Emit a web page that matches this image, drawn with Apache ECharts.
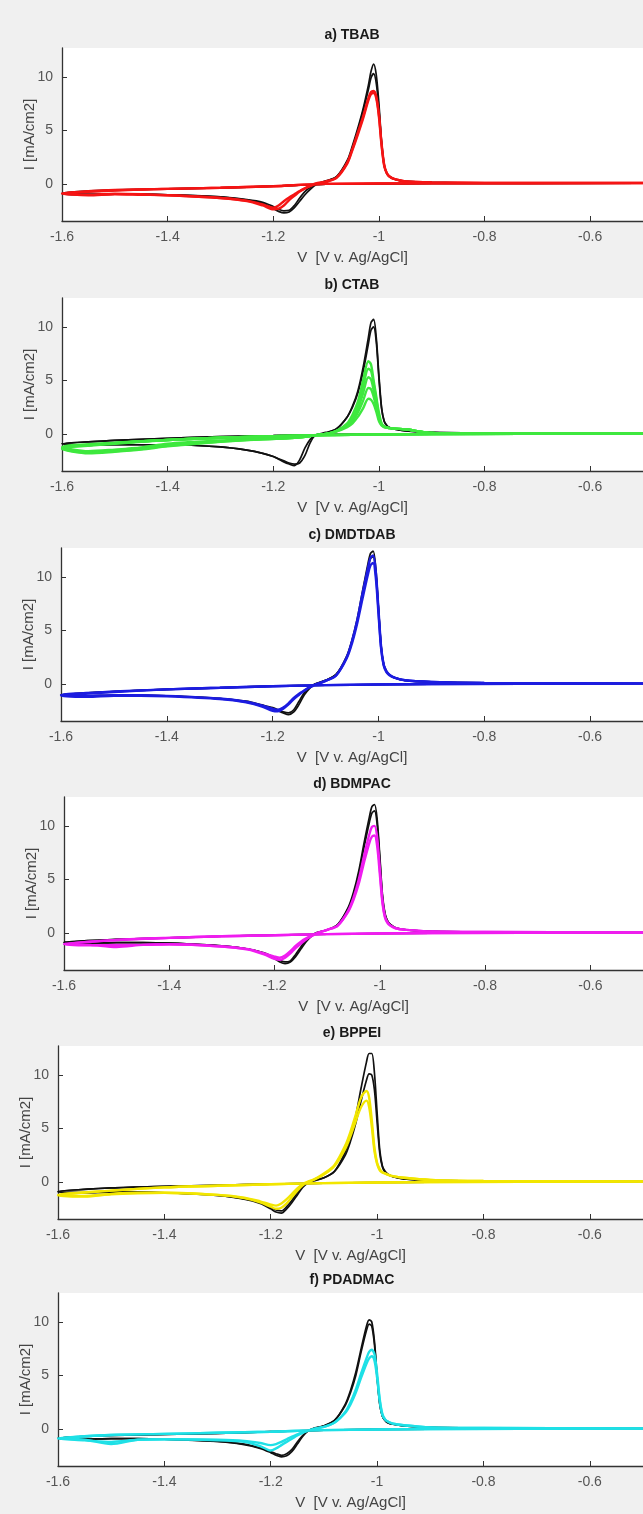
<!DOCTYPE html>
<html>
<head>
<meta charset="utf-8">
<script src="https://cdn.jsdelivr.net/npm/echarts@6/dist/echarts.min.js"></script>
<style>
html,body{margin:0;padding:0;background:#f0f0f0;}
#chart{width:643px;height:1514px;}
</style>
</head>
<body>
<div id="chart"></div>
<script>
// potential along one cycle: sweep down to -1.6 V, then back up to -0.5 V
var scanV = [-0.5,-0.9,-1.1,-1.2,-1.3,-1.4,-1.5,-1.6,
  -1.55,-1.5,-1.45,-1.4,-1.3,-1.25,-1.22,-1.2,-1.19,-1.18,-1.17,-1.16,-1.15,-1.14,-1.13,-1.12,
  -1.1,-1.08,-1.06,-1.05,-1.04,-1.03,-1.02,-1.015,-1.01,-1.005,-1.0,-0.995,-0.99,-0.985,-0.98,-0.97,-0.95,-0.9,-0.8,-0.5];

var xTicks = [-1.6,-1.4,-1.2,-1,-0.8,-0.6];
var yTicks = [0,5,10];

// a) TBAB
var tbabBlack1 = [0.08,0.05,0.0,-0.2,-0.35,-0.45,-0.55,-0.85,
  -0.95,-0.95,-0.95,-1.0,-1.2,-1.5,-1.8,-2.3,-2.55,-2.7,-2.6,-2.2,-1.6,-1.0,-0.5,-0.1,
  0.25,0.7,2.2,3.6,5.2,7.0,9.2,10.5,11.2,10.2,7.5,4.0,1.8,1.0,0.7,0.45,0.25,0.15,0.1,0.08];
var tbabBlack2 = [0.08,0.05,0.0,-0.2,-0.35,-0.45,-0.6,-0.9,
  -1.0,-0.95,-0.95,-1.0,-1.2,-1.45,-1.7,-2.1,-2.35,-2.5,-2.45,-2.0,-1.3,-0.7,-0.3,0.0,
  0.3,0.7,2.1,3.4,5.0,6.8,8.8,9.9,10.3,9.4,7.0,3.8,1.7,1.0,0.7,0.45,0.25,0.15,0.1,0.08];
var tbabRed1 = [0.1,0.06,0.02,-0.2,-0.35,-0.45,-0.55,-0.85,
  -1.0,-0.9,-0.95,-1.05,-1.3,-1.55,-1.9,-2.2,-2.0,-1.6,-1.25,-0.95,-0.65,-0.4,-0.2,0.0,
  0.2,0.6,2.0,3.3,4.8,6.3,8.0,8.6,8.7,8.2,6.5,3.8,1.8,1.0,0.7,0.45,0.25,0.15,0.1,0.1];
var tbabRed2 = [0.1,0.06,0.02,-0.2,-0.35,-0.45,-0.6,-0.9,
  -1.05,-0.95,-1.0,-1.05,-1.3,-1.6,-2.0,-2.35,-2.3,-2.0,-1.5,-1.1,-0.7,-0.4,-0.15,0.05,
  0.25,0.6,1.9,3.2,4.6,6.1,7.8,8.4,8.5,8.0,6.3,3.6,1.7,1.0,0.7,0.45,0.25,0.15,0.1,0.1];

// b) CTAB
var ctabBlack1 = [0.05,0.02,-0.05,-0.15,-0.25,-0.4,-0.6,-0.9,
  -1.05,-1.0,-1.0,-1.0,-1.2,-1.5,-1.8,-2.1,-2.35,-2.6,-2.8,-2.95,-2.4,-1.3,-0.5,-0.1,
  0.1,0.5,1.6,2.6,4.0,6.2,9.0,10.4,10.7,9.0,5.5,2.5,1.2,0.8,0.6,0.45,0.3,0.15,0.1,0.05];
var ctabBlack2 = [0.05,0.02,-0.05,-0.15,-0.25,-0.4,-0.6,-0.9,
  -1.05,-1.0,-1.0,-1.0,-1.2,-1.5,-1.8,-2.1,-2.3,-2.5,-2.7,-2.8,-2.7,-2.0,-0.8,-0.1,
  0.15,0.5,1.6,2.5,3.8,5.8,8.4,9.7,10.0,8.6,5.2,2.4,1.2,0.8,0.6,0.45,0.3,0.15,0.1,0.05];
var ctabGreen1 = [0.05,0.0,-0.1,-0.2,-0.35,-0.55,-0.8,-1.2,
  -1.6,-1.45,-1.25,-0.9,-0.6,-0.5,-0.45,-0.42,-0.4,-0.38,-0.36,-0.34,-0.3,-0.25,-0.2,-0.1,
  0.0,0.3,1.0,1.8,3.0,5.0,6.8,6.5,5.0,3.5,2.0,1.0,0.7,0.6,0.55,0.5,0.45,0.1,0.05,0.05];
var ctabGreen2 = [0.05,0.0,-0.1,-0.2,-0.35,-0.55,-0.85,-1.3,
  -1.7,-1.5,-1.3,-1.0,-0.65,-0.5,-0.45,-0.42,-0.4,-0.38,-0.36,-0.34,-0.3,-0.25,-0.2,-0.1,
  0.0,0.3,0.9,1.6,2.7,4.4,6.1,5.9,4.7,3.2,1.8,0.95,0.7,0.6,0.55,0.5,0.45,0.1,0.05,0.05];
var ctabGreen3 = [0.05,0.0,-0.1,-0.2,-0.35,-0.55,-0.85,-1.3,
  -1.7,-1.55,-1.35,-1.05,-0.68,-0.52,-0.46,-0.43,-0.41,-0.39,-0.37,-0.34,-0.3,-0.25,-0.2,-0.1,
  0.0,0.3,0.85,1.4,2.3,3.8,5.3,5.1,4.1,2.8,1.6,0.9,0.7,0.6,0.55,0.5,0.45,0.1,0.05,0.05];
var ctabGreen4 = [0.05,0.0,-0.1,-0.2,-0.35,-0.55,-0.85,-1.35,
  -1.75,-1.6,-1.4,-1.1,-0.7,-0.55,-0.5,-0.45,-0.42,-0.4,-0.38,-0.35,-0.3,-0.25,-0.2,-0.1,
  0.0,0.25,0.75,1.2,2.0,3.1,4.3,4.2,3.5,2.5,1.4,0.85,0.65,0.6,0.55,0.5,0.45,0.1,0.05,0.05];
var ctabGreen5 = [0.05,0.0,-0.1,-0.2,-0.35,-0.55,-0.9,-1.4,
  -1.8,-1.65,-1.45,-1.15,-0.72,-0.56,-0.5,-0.46,-0.43,-0.41,-0.39,-0.36,-0.31,-0.26,-0.2,-0.1,
  0.0,0.25,0.65,1.0,1.6,2.4,3.3,3.2,2.8,2.1,1.2,0.8,0.65,0.6,0.55,0.5,0.45,0.1,0.05,0.05];

// c) DMDTDAB
var dmBlack1 = [0.05,0.0,-0.1,-0.2,-0.35,-0.5,-0.7,-1.0,
  -1.1,-1.05,-1.05,-1.1,-1.35,-1.65,-2.0,-2.3,-2.5,-2.7,-2.85,-2.6,-1.9,-1.0,-0.4,0.0,
  0.35,0.9,2.6,4.1,6.1,8.7,11.2,12.2,12.4,10.8,7.2,3.6,1.8,1.2,0.9,0.6,0.35,0.2,0.1,0.05];
var dmBlack2 = [0.05,0.0,-0.1,-0.2,-0.35,-0.5,-0.7,-1.0,
  -1.1,-1.05,-1.05,-1.1,-1.35,-1.6,-1.95,-2.2,-2.4,-2.6,-2.7,-2.4,-1.6,-0.8,-0.3,0.0,
  0.35,0.9,2.5,4.0,5.9,8.4,10.8,11.7,11.9,10.4,7.0,3.5,1.8,1.2,0.9,0.6,0.35,0.2,0.1,0.05];
var dmBlue1 = [0.05,0.0,-0.1,-0.2,-0.35,-0.5,-0.7,-1.0,
  -1.1,-1.05,-1.05,-1.1,-1.35,-1.65,-2.0,-2.3,-2.4,-2.2,-1.8,-1.3,-0.9,-0.6,-0.3,-0.1,
  0.3,0.8,2.5,4.0,6.0,8.5,10.8,11.8,12.0,10.5,7.0,3.5,1.8,1.2,0.9,0.6,0.35,0.2,0.1,0.05];
var dmBlue2 = [0.05,0.0,-0.1,-0.2,-0.35,-0.5,-0.75,-1.1,
  -1.2,-1.1,-1.1,-1.15,-1.4,-1.7,-2.1,-2.5,-2.55,-2.3,-1.9,-1.4,-1.0,-0.6,-0.3,-0.05,
  0.3,0.8,2.4,3.8,5.7,8.0,10.2,11.1,11.3,9.9,6.6,3.3,1.7,1.1,0.85,0.6,0.35,0.2,0.1,0.05];

// d) BDMPAC
var bdBlack1 = [0.05,0.0,-0.1,-0.2,-0.3,-0.45,-0.6,-0.85,
  -0.95,-0.9,-0.9,-0.95,-1.2,-1.5,-1.9,-2.4,-2.7,-2.85,-2.7,-2.2,-1.5,-0.8,-0.3,0.0,
  0.3,0.8,2.4,3.8,5.8,8.4,10.8,11.8,12.0,10.6,7.2,3.6,1.8,1.1,0.8,0.5,0.3,0.15,0.1,0.05];
var bdBlack2 = [0.05,0.0,-0.1,-0.2,-0.3,-0.45,-0.6,-0.85,
  -0.95,-0.9,-0.9,-0.95,-1.2,-1.5,-1.85,-2.3,-2.55,-2.7,-2.6,-2.0,-1.3,-0.6,-0.2,0.05,
  0.3,0.8,2.3,3.6,5.5,8.0,10.3,11.2,11.4,10.1,6.9,3.4,1.7,1.1,0.8,0.5,0.3,0.15,0.1,0.05];
var bdMag1 = [0.05,0.0,-0.1,-0.2,-0.3,-0.45,-0.65,-1.0,
  -1.1,-1.3,-1.1,-1.05,-1.25,-1.55,-2.0,-2.4,-2.5,-2.3,-1.9,-1.4,-1.0,-0.6,-0.3,-0.05,
  0.3,0.7,2.1,3.3,5.0,7.2,9.2,9.9,10.0,8.9,6.0,3.0,1.5,1.0,0.7,0.45,0.3,0.15,0.1,0.05];
var bdMag2 = [0.05,0.0,-0.1,-0.2,-0.3,-0.45,-0.65,-1.05,
  -1.15,-1.1,-1.1,-1.05,-1.25,-1.5,-1.9,-2.2,-2.3,-2.1,-1.7,-1.2,-0.8,-0.5,-0.25,0.0,
  0.3,0.7,2.0,3.1,4.6,6.6,8.4,9.0,9.1,8.1,5.5,2.8,1.4,0.9,0.7,0.45,0.3,0.15,0.1,0.05];

// e) BPPEI
var bpBlack1 = [0.05,0.0,-0.1,-0.2,-0.3,-0.4,-0.55,-0.9,
  -1.0,-0.95,-0.95,-1.0,-1.25,-1.6,-2.0,-2.5,-2.8,-2.9,-2.5,-1.9,-1.2,-0.5,-0.1,0.1,
  0.4,1.0,2.8,4.2,6.2,8.8,11.2,12.0,12.0,10.2,6.5,3.0,1.5,1.0,0.75,0.5,0.3,0.15,0.1,0.05];
var bpBlack2 = [0.05,0.0,-0.1,-0.2,-0.3,-0.4,-0.55,-0.9,
  -1.0,-0.95,-0.95,-1.0,-1.25,-1.55,-1.9,-2.35,-2.6,-2.7,-2.3,-1.7,-1.0,-0.4,0.0,0.15,
  0.4,1.0,2.5,3.8,5.5,7.6,9.5,10.1,10.0,8.6,5.6,2.7,1.4,0.9,0.7,0.5,0.3,0.15,0.1,0.05];
var bpYellow1 = [0.05,0.0,-0.1,-0.2,-0.35,-0.5,-0.8,-1.2,
  -1.3,-1.1,-1.0,-1.0,-1.2,-1.5,-1.9,-2.3,-2.5,-2.4,-2.0,-1.4,-0.8,-0.3,0.0,0.2,
  0.8,1.6,3.4,4.7,6.3,7.9,8.5,7.9,5.8,3.2,1.8,1.2,0.9,0.8,0.7,0.55,0.4,0.2,0.1,0.05];
var bpYellow2 = [0.05,0.0,-0.1,-0.2,-0.35,-0.5,-0.8,-1.25,
  -1.35,-1.15,-1.05,-1.0,-1.2,-1.45,-1.8,-2.1,-2.2,-2.0,-1.6,-1.1,-0.6,-0.2,0.05,0.2,
  0.7,1.5,3.1,4.3,5.7,7.0,7.6,7.0,5.2,2.9,1.7,1.1,0.9,0.8,0.7,0.55,0.4,0.2,0.1,0.05];

// f) PDADMAC
var pdBlack1 = [0.05,0.0,-0.1,-0.25,-0.4,-0.5,-0.6,-0.85,
  -0.95,-0.9,-0.9,-0.95,-1.15,-1.45,-1.8,-2.2,-2.45,-2.6,-2.5,-2.1,-1.4,-0.7,-0.2,0.05,
  0.3,0.8,2.3,3.6,5.3,7.5,9.6,10.2,10.0,8.2,5.0,2.4,1.2,0.8,0.6,0.45,0.3,0.15,0.1,0.05];
var pdBlack2 = [0.05,0.0,-0.1,-0.25,-0.4,-0.5,-0.6,-0.85,
  -0.95,-0.9,-0.9,-0.95,-1.15,-1.4,-1.75,-2.1,-2.3,-2.45,-2.3,-1.9,-1.2,-0.6,-0.15,0.05,
  0.3,0.8,2.2,3.4,5.0,7.2,9.2,9.8,9.6,7.9,4.8,2.3,1.2,0.8,0.6,0.45,0.3,0.15,0.1,0.05];
var pdCyan1 = [0.05,0.0,-0.1,-0.25,-0.35,-0.45,-0.55,-0.85,
  -1.0,-1.4,-1.0,-0.95,-1.0,-1.1,-1.3,-1.5,-1.4,-1.2,-0.95,-0.7,-0.5,-0.3,-0.15,0.0,
  0.2,0.6,1.6,2.5,3.7,5.2,6.6,7.2,7.4,7.0,5.2,2.8,1.4,0.9,0.7,0.5,0.35,0.15,0.1,0.05];
var pdCyan2 = [0.05,0.0,-0.1,-0.25,-0.35,-0.45,-0.55,-0.9,
  -1.05,-1.2,-1.0,-0.95,-1.05,-1.2,-1.6,-2.0,-1.8,-1.5,-1.2,-0.9,-0.6,-0.35,-0.15,0.0,
  0.2,0.6,1.5,2.3,3.4,4.8,6.1,6.6,6.8,6.4,4.8,2.6,1.3,0.9,0.7,0.5,0.35,0.15,0.1,0.05];

var panels = [
  {title: 'a) TBAB', color: '#f51414', black: [tbabBlack1, tbabBlack2], add: [tbabRed1, tbabRed2]},
  {title: 'b) CTAB', color: '#3ee83e', black: [ctabBlack1, ctabBlack2], add: [ctabGreen1, ctabGreen2, ctabGreen3, ctabGreen4, ctabGreen5]},
  {title: 'c) DMDTDAB', color: '#1c1ce0', black: [dmBlack1, dmBlack2], add: [dmBlue1, dmBlue2]},
  {title: 'd) BDMPAC', color: '#f01cf0', black: [bdBlack1, bdBlack2], add: [bdMag1, bdMag2]},
  {title: 'e) BPPEI', color: '#f2e600', black: [bpBlack1, bpBlack2], add: [bpYellow1, bpYellow2]},
  {title: 'f) PDADMAC', color: '#1ee0e6', black: [pdBlack1, pdBlack2], add: [pdCyan1, pdCyan2]}
];

var gridTop = [48, 298, 548, 797, 1046, 1293];
var gridLeft = [62, 62, 61, 64, 58, 58];
var plotH = 173;
var font = 'Liberation Sans, Arial, sans-serif';

function toPoints(curve) {
  return scanV.map(function (v, k) { return [v, curve[k]]; });
}

var grids = [], xAxes = [], yAxes = [], titles = [], series = [];
panels.forEach(function (p, i) {
  grids.push({
    left: gridLeft[i], right: 0, top: gridTop[i], height: plotH,
    show: true, backgroundColor: '#ffffff', borderWidth: 0
  });
  titles.push({
    text: p.title, left: 352, top: gridTop[i] - 20, textAlign: 'center', padding: 0,
    textStyle: {fontSize: 14, fontWeight: 'bold', color: '#1a1a1a', fontFamily: font}
  });
  xAxes.push({
    type: 'value', gridIndex: i, min: -1.6, max: -0.5,
    name: 'V  [V v. Ag/AgCl]', nameLocation: 'middle', nameGap: 29, nameMoveOverlap: false,
    nameTextStyle: {fontSize: 15, color: '#444', fontFamily: font},
    axisLine: {onZero: false, lineStyle: {color: '#333', width: 1.3}},
    axisTick: {inside: true, length: 5, customValues: xTicks, lineStyle: {color: '#333'}},
    axisLabel: {customValues: xTicks, fontSize: 14, color: '#555', margin: 9, fontFamily: font},
    splitLine: {show: false}
  });
  yAxes.push({
    type: 'value', gridIndex: i, min: -3.45, max: 12.7,
    name: 'I [mA/cm2]', nameLocation: 'middle', nameGap: 25, nameMoveOverlap: false,
    nameTextStyle: {fontSize: 15, color: '#444', fontFamily: font},
    axisLine: {onZero: false, lineStyle: {color: '#333', width: 1.3}},
    axisTick: {inside: true, length: 5, customValues: yTicks, lineStyle: {color: '#333'}},
    axisLabel: {customValues: yTicks, fontSize: 14, color: '#555', margin: 9, fontFamily: font},
    splitLine: {show: false}
  });
  p.black.forEach(function (c) {
    series.push({
      type: 'line', xAxisIndex: i, yAxisIndex: i, data: toPoints(c),
      showSymbol: false, smooth: 0.3, silent: true,
      lineStyle: {color: '#111', width: 1.7}
    });
  });
  p.add.forEach(function (c) {
    series.push({
      type: 'line', xAxisIndex: i, yAxisIndex: i, data: toPoints(c),
      showSymbol: false, smooth: 0.3, silent: true,
      lineStyle: {color: p.color, width: 2.4}
    });
  });
});

var myChart = echarts.init(document.getElementById('chart'));
myChart.setOption({
  backgroundColor: '#f0f0f0',
  animation: false,
  title: titles,
  grid: grids,
  xAxis: xAxes,
  yAxis: yAxes,
  series: series
});
</script>
</body>
</html>
